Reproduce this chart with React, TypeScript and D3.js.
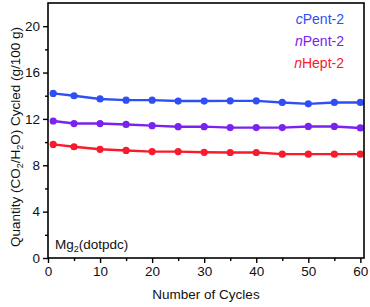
import React, { useEffect, useRef } from 'react';
import * as d3 from 'd3';

const cycles = [1, 5, 10, 15, 20, 25, 30, 35, 40, 45, 50, 55, 60];
const cPent = [14.2, 14.0, 13.72, 13.62, 13.62, 13.54, 13.54, 13.56, 13.56, 13.42, 13.3, 13.42, 13.42];
const nPent = [11.82, 11.6, 11.6, 11.52, 11.42, 11.33, 11.33, 11.25, 11.25, 11.25, 11.35, 11.35, 11.22];
const nHept = [9.8, 9.6, 9.38, 9.28, 9.18, 9.18, 9.12, 9.1, 9.1, 8.96, 8.96, 8.96, 8.96];

const seriesNames = [
  { prefix: 'c', rest: 'Pent-2' },
  { prefix: 'n', rest: 'Pent-2' },
  { prefix: 'n', rest: 'Hept-2' },
];
const seriesValues = [cPent, nPent, nHept];
const seriesColors = ['#2f4ff5', '#7a22ef', '#f71b2c'];

const xTicks = [0, 10, 20, 30, 40, 50, 60];
const yTicks = [0, 4, 8, 12, 16, 20];

const W = 370;
const H = 307;
const margin = { top: 3, right: 6, bottom: 49, left: 48 };

const Chart: React.FC = () => {
  const ref = useRef<SVGSVGElement>(null);

  useEffect(() => {
    if (!ref.current) return;
    const root = d3.select(ref.current);
    root.selectAll('*').remove();

    const iw = W - margin.left - margin.right;
    const ih = H - margin.top - margin.bottom;

    const x = d3.scaleLinear().domain([0, 60.7]).range([0, iw]);
    const y = d3.scaleLinear().domain([0, 22]).range([ih, 0]);

    const g = root.append('g').attr('transform', `translate(${margin.left},${margin.top})`);
    const font = 'Arial, "Liberation Sans", sans-serif';

    // series
    const line = d3
      .line<number>()
      .x((_d, i) => x(cycles[i]))
      .y((d) => y(d));

    seriesValues.forEach((vals, si) => {
      g.append('path')
        .datum(vals)
        .attr('d', line)
        .attr('fill', 'none')
        .attr('stroke', seriesColors[si])
        .attr('stroke-width', 2.4);
      g.selectAll(`.pt${si}`)
        .data(vals)
        .enter()
        .append('circle')
        .attr('cx', (_d, i) => x(cycles[i]))
        .attr('cy', (d) => y(d))
        .attr('r', 3.6)
        .attr('fill', seriesColors[si]);
    });

    // frame
    g.append('rect')
      .attr('width', iw)
      .attr('height', ih)
      .attr('fill', 'none')
      .attr('stroke', '#000')
      .attr('stroke-width', 1.6);

    // x axis
    const xAxis = g.append('g').attr('transform', `translate(0,${ih})`);
    xAxis
      .call(d3.axisBottom(x).tickValues(xTicks).tickSize(5).tickPadding(3).tickFormat(d3.format('d')))
      .call((a) => a.select('.domain').remove());
    xAxis
      .append('g')
      .call(d3.axisBottom(x).tickValues(d3.range(5, 60, 10)).tickSize(3).tickFormat(() => ''))
      .call((a) => a.select('.domain').remove());

    // y axis
    const yAxis = g.append('g');
    yAxis
      .call(d3.axisLeft(y).tickValues(yTicks).tickSize(5).tickPadding(3))
      .call((a) => a.select('.domain').remove());
    yAxis
      .append('g')
      .call(d3.axisLeft(y).tickValues(d3.range(2, 22, 4)).tickSize(3).tickFormat(() => ''))
      .call((a) => a.select('.domain').remove());

    root.selectAll('.tick line').attr('stroke', '#000').attr('stroke-width', 1.4);
    root
      .selectAll('.tick text')
      .attr('fill', '#111')
      .style('font-family', font)
      .style('font-size', '13.5px');

    // axis titles
    root
      .append('text')
      .attr('x', margin.left + iw / 2)
      .attr('y', 299)
      .attr('text-anchor', 'middle')
      .style('font-family', font)
      .style('font-size', '13.5px')
      .attr('fill', '#111')
      .text('Number of Cycles');

    const yt = root
      .append('text')
      .attr('transform', `translate(20,137) rotate(-90)`)
      .attr('text-anchor', 'middle')
      .style('font-family', font)
      .style('font-size', '13.5px')
      .attr('fill', '#111');
    const parts: [string, boolean][] = [
      ['Quantity (CO', false],
      ['2', true],
      ['/H', false],
      ['2', true],
      ['O) Cycled (g/100 g)', false],
    ];
    parts.forEach(([t, sub], i) => {
      const prevSub = i > 0 && parts[i - 1][1];
      yt.append('tspan')
        .attr('dy', sub ? 3 : prevSub ? -3 : 0)
        .style('font-size', sub ? '9px' : '13.5px')
        .text(t);
    });

    // legend
    seriesNames.forEach((s, i) => {
      const t = root
        .append('text')
        .attr('x', 344)
        .attr('y', 24 + i * 22)
        .attr('text-anchor', 'end')
        .style('font-family', font)
        .style('font-size', '14px')
        .attr('fill', seriesColors[i]);
      t.append('tspan').style('font-style', 'italic').text(s.prefix);
      t.append('tspan').text(s.rest);
    });

    // sample label
    const lab = root
      .append('text')
      .attr('x', 55)
      .attr('y', 249)
      .style('font-family', font)
      .style('font-size', '13.5px')
      .attr('fill', '#111');
    lab.append('tspan').text('Mg');
    lab.append('tspan').attr('dy', 3).style('font-size', '9px').text('2');
    lab.append('tspan').attr('dy', -3).text('(dotpdc)');
  }, []);

  return <svg ref={ref} width={W} height={H} style={{ display: 'block' }} />;
};

export default function App() {
  return (
    <div style={{ position: 'fixed', left: 0, top: 0, width: W, height: H, background: '#fff' }}>
      <Chart />
    </div>
  );
}
